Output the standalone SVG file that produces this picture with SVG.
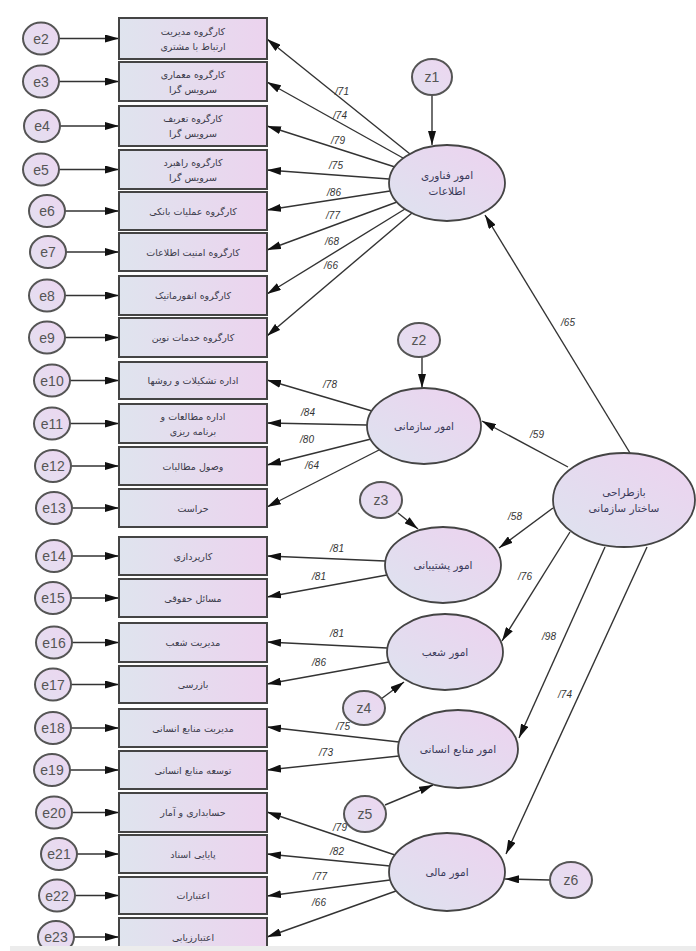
<svg xmlns="http://www.w3.org/2000/svg" width="696" height="951" viewBox="0 0 696 951">
<defs>
<linearGradient id="gBox" x1="0" y1="0" x2="1" y2="0"><stop offset="0" stop-color="#dfe4ee"/><stop offset="1" stop-color="#ecd3ee"/></linearGradient>
<linearGradient id="gEll" x1="0" y1="1" x2="1" y2="0"><stop offset="0" stop-color="#dde3ef"/><stop offset="1" stop-color="#edd2ef"/></linearGradient>
<linearGradient id="gCir" x1="0" y1="1" x2="1" y2="0"><stop offset="0" stop-color="#e3e0f0"/><stop offset="1" stop-color="#ecd6f0"/></linearGradient>
<marker id="ah" markerWidth="14" markerHeight="8" refX="14" refY="4" orient="auto" markerUnits="userSpaceOnUse"><path d="M0,0 L14,4 L0,8 z" fill="#111"/></marker>
</defs>
<style>
.box{fill:url(#gBox);stroke:#444;stroke-width:2}
.ell{fill:url(#gEll);stroke:#444;stroke-width:1.8}
.cir{fill:url(#gCir);stroke:#555;stroke-width:2}
.bt{font-family:"DejaVu Sans",sans-serif;font-size:9.5px;fill:#3a3a4a;text-anchor:middle}
.lt{font-family:"DejaVu Sans",sans-serif;font-size:10.5px;fill:#3a3a5a;text-anchor:middle}
.et{font-family:"Liberation Sans",Arial,sans-serif;font-size:14px;fill:#555;text-anchor:middle}
.nt{font-family:"Liberation Sans",Arial,sans-serif;font-size:10px;font-style:italic;fill:#333;text-anchor:middle}
.c line{stroke:#333;stroke-width:1.4;marker-end:url(#ah)}
</style>
<rect width="696" height="951" fill="#fff"/>

<g id="connectors" class="c">
<!-- error arrows -->
<line x1="59" y1="38.5" x2="119" y2="38.5"/>
<line x1="59" y1="81.5" x2="119" y2="81.5"/>
<line x1="60" y1="126" x2="119" y2="126"/>
<line x1="59" y1="169.5" x2="119" y2="169.5"/>
<line x1="65" y1="211" x2="119" y2="211"/>
<line x1="66" y1="252" x2="119" y2="252"/>
<line x1="65" y1="295.5" x2="119" y2="295.5"/>
<line x1="65" y1="337.5" x2="119" y2="337.5"/>
<line x1="70" y1="380.5" x2="119" y2="380.5"/>
<line x1="70" y1="423.5" x2="119" y2="423.5"/>
<line x1="71" y1="466" x2="119" y2="466"/>
<line x1="72" y1="508" x2="119" y2="508"/>
<line x1="72" y1="556" x2="119" y2="556"/>
<line x1="71" y1="598" x2="119" y2="598"/>
<line x1="72" y1="642.5" x2="119" y2="642.5"/>
<line x1="71" y1="684.5" x2="119" y2="684.5"/>
<line x1="71" y1="728" x2="119" y2="728"/>
<line x1="70" y1="770" x2="119" y2="770"/>
<line x1="72" y1="812.5" x2="119" y2="812.5"/>
<line x1="77" y1="854" x2="119" y2="854"/>
<line x1="75" y1="895.5" x2="119" y2="895.5"/>
<line x1="74" y1="937" x2="119" y2="937"/>
<!-- IT loadings -->
<line x1="410" y1="154" x2="267" y2="39"/>
<line x1="403" y1="158" x2="267" y2="82"/>
<line x1="395" y1="167" x2="267" y2="126"/>
<line x1="389" y1="179" x2="267" y2="170"/>
<line x1="390" y1="191" x2="267" y2="210"/>
<line x1="397" y1="202" x2="267" y2="250"/>
<line x1="405" y1="209" x2="267" y2="294"/>
<line x1="412" y1="213" x2="267" y2="336"/>
<!-- organizational -->
<line x1="372" y1="411" x2="267" y2="380"/>
<line x1="367" y1="425" x2="267" y2="423"/>
<line x1="371" y1="439" x2="267" y2="465"/>
<line x1="379" y1="450" x2="267" y2="507"/>
<!-- support -->
<line x1="385" y1="561" x2="267" y2="556"/>
<line x1="387" y1="575" x2="267" y2="597"/>
<!-- branches -->
<line x1="387" y1="648" x2="267" y2="642"/>
<line x1="389" y1="662" x2="267" y2="684"/>
<!-- HR -->
<line x1="399" y1="742" x2="267" y2="727"/>
<line x1="399" y1="756" x2="267" y2="770"/>
<!-- finance -->
<line x1="395" y1="855" x2="267" y2="812"/>
<line x1="390" y1="866" x2="267" y2="854"/>
<line x1="390" y1="880" x2="267" y2="896"/>
<line x1="396" y1="891" x2="267" y2="937"/>
<!-- disturbances -->
<line x1="432" y1="95" x2="432" y2="145"/>
<line x1="422" y1="357" x2="422" y2="388"/>
<line x1="398" y1="513" x2="418" y2="529"/>
<line x1="381" y1="699" x2="404" y2="682"/>
<line x1="385" y1="805" x2="433" y2="785"/>
<line x1="550" y1="880" x2="505" y2="879"/>
<!-- structural -->
<line x1="630" y1="453" x2="485" y2="215"/>
<line x1="568" y1="467" x2="482" y2="421"/>
<line x1="553" y1="508" x2="499" y2="548"/>
<line x1="570" y1="532" x2="502" y2="641"/>
<line x1="605" y1="547" x2="519" y2="738"/>
<line x1="647" y1="547" x2="506" y2="854"/>
</g>

<g id="labels">
<text class="nt" x="342" y="95">/71</text>
<text class="nt" x="340" y="119">/74</text>
<text class="nt" x="338" y="144">/79</text>
<text class="nt" x="336" y="169">/75</text>
<text class="nt" x="334" y="196">/86</text>
<text class="nt" x="333" y="219">/77</text>
<text class="nt" x="332" y="245">/68</text>
<text class="nt" x="331" y="269">/66</text>
<text class="nt" x="330" y="388">/78</text>
<text class="nt" x="308" y="416">/84</text>
<text class="nt" x="307" y="443">/80</text>
<text class="nt" x="312" y="469">/64</text>
<text class="nt" x="337" y="552">/81</text>
<text class="nt" x="319" y="580">/81</text>
<text class="nt" x="337" y="637">/81</text>
<text class="nt" x="319" y="666">/86</text>
<text class="nt" x="343" y="730">/75</text>
<text class="nt" x="326" y="756">/73</text>
<text class="nt" x="340" y="831">/79</text>
<text class="nt" x="337" y="855">/82</text>
<text class="nt" x="320" y="880">/77</text>
<text class="nt" x="319" y="906">/66</text>
<text class="nt" x="568" y="326">/65</text>
<text class="nt" x="537" y="438">/59</text>
<text class="nt" x="515" y="520">/58</text>
<text class="nt" x="525" y="580">/76</text>
<text class="nt" x="549" y="640">/98</text>
<text class="nt" x="565" y="698">/74</text>
</g>

<g id="e2"><ellipse class="cir" cx="41" cy="38.5" rx="18" ry="16"/><text class="et" x="41" y="43.5">e2</text></g>
<g id="e3"><ellipse class="cir" cx="41" cy="81.5" rx="18" ry="16"/><text class="et" x="41" y="86.5">e3</text></g>
<g id="e4"><ellipse class="cir" cx="42" cy="126" rx="18" ry="16"/><text class="et" x="42" y="131">e4</text></g>
<g id="e5"><ellipse class="cir" cx="41" cy="169.5" rx="18" ry="16"/><text class="et" x="41" y="174.5">e5</text></g>
<g id="e6"><ellipse class="cir" cx="47" cy="211" rx="18" ry="16"/><text class="et" x="47" y="216">e6</text></g>
<g id="e7"><ellipse class="cir" cx="48" cy="252" rx="18" ry="16"/><text class="et" x="48" y="257">e7</text></g>
<g id="e8"><ellipse class="cir" cx="47" cy="295.5" rx="18" ry="16"/><text class="et" x="47" y="300.5">e8</text></g>
<g id="e9"><ellipse class="cir" cx="47" cy="337.5" rx="18" ry="16"/><text class="et" x="47" y="342.5">e9</text></g>
<g id="e10"><ellipse class="cir" cx="52" cy="380.5" rx="18" ry="16"/><text class="et" x="52" y="385.5">e10</text></g>
<g id="e11"><ellipse class="cir" cx="52" cy="423.5" rx="18" ry="16"/><text class="et" x="52" y="428.5">e11</text></g>
<g id="e12"><ellipse class="cir" cx="53" cy="466" rx="18" ry="16"/><text class="et" x="53" y="471">e12</text></g>
<g id="e13"><ellipse class="cir" cx="54" cy="508" rx="18" ry="16"/><text class="et" x="54" y="513">e13</text></g>
<g id="e14"><ellipse class="cir" cx="54" cy="556" rx="18" ry="16"/><text class="et" x="54" y="561">e14</text></g>
<g id="e15"><ellipse class="cir" cx="53" cy="598" rx="18" ry="16"/><text class="et" x="53" y="603">e15</text></g>
<g id="e16"><ellipse class="cir" cx="54" cy="642.5" rx="18" ry="16"/><text class="et" x="54" y="647.5">e16</text></g>
<g id="e17"><ellipse class="cir" cx="53" cy="684.5" rx="18" ry="16"/><text class="et" x="53" y="689.5">e17</text></g>
<g id="e18"><ellipse class="cir" cx="53" cy="728" rx="18" ry="16"/><text class="et" x="53" y="733">e18</text></g>
<g id="e19"><ellipse class="cir" cx="52" cy="770" rx="18" ry="16"/><text class="et" x="52" y="775">e19</text></g>
<g id="e20"><ellipse class="cir" cx="54" cy="812.5" rx="18" ry="16"/><text class="et" x="54" y="817.5">e20</text></g>
<g id="e21"><ellipse class="cir" cx="59" cy="854" rx="18" ry="16"/><text class="et" x="59" y="859">e21</text></g>
<g id="e22"><ellipse class="cir" cx="57" cy="895.5" rx="18" ry="16"/><text class="et" x="57" y="900.5">e22</text></g>
<g id="e23"><ellipse class="cir" cx="56" cy="937" rx="18" ry="16"/><text class="et" x="56" y="942">e23</text></g>

<g id="v2"><rect class="box" x="119" y="18" width="148" height="41"/><text class="bt" x="193" y="35">کارگروه مدیریت</text><text class="bt" x="193" y="50">ارتباط با مشتری</text></g>
<g id="v3"><rect class="box" x="119" y="62" width="148" height="39"/><text class="bt" x="193" y="78">کارگروه معماری</text><text class="bt" x="193" y="93">سرویس گرا</text></g>
<g id="v4"><rect class="box" x="119" y="106" width="148" height="40"/><text class="bt" x="193" y="122">کارگروه تعریف</text><text class="bt" x="193" y="137">سرویس گرا</text></g>
<g id="v5"><rect class="box" x="119" y="150" width="148" height="39"/><text class="bt" x="193" y="166">کارگروه راهبرد</text><text class="bt" x="193" y="181">سرویس گرا</text></g>
<g id="v6"><rect class="box" x="119" y="192" width="148" height="38"/><text class="bt" x="193" y="215">کارگروه عملیات بانکی</text></g>
<g id="v7"><rect class="box" x="119" y="233" width="148" height="38"/><text class="bt" x="193" y="256">کارگروه امنیت اطلاعات</text></g>
<g id="v8"><rect class="box" x="119" y="276" width="148" height="39"/><text class="bt" x="193" y="299">کارگروه انفورماتیک</text></g>
<g id="v9"><rect class="box" x="119" y="318" width="148" height="39"/><text class="bt" x="193" y="341">کارگروه خدمات نوین</text></g>
<g id="v10"><rect class="box" x="119" y="362" width="148" height="37"/><text class="bt" x="193" y="384">اداره تشکیلات و روشها</text></g>
<g id="v11"><rect class="box" x="119" y="404" width="148" height="39"/><text class="bt" x="193" y="420">اداره مطالعات و</text><text class="bt" x="193" y="435">برنامه ریزی</text></g>
<g id="v12"><rect class="box" x="119" y="447" width="148" height="38"/><text class="bt" x="193" y="470">وصول مطالبات</text></g>
<g id="v13"><rect class="box" x="119" y="489" width="148" height="38"/><text class="bt" x="193" y="512">حراست</text></g>
<g id="v14"><rect class="box" x="119" y="537" width="148" height="38"/><text class="bt" x="193" y="560">کارپردازی</text></g>
<g id="v15"><rect class="box" x="119" y="579" width="148" height="38"/><text class="bt" x="193" y="602">مسائل حقوقی</text></g>
<g id="v16"><rect class="box" x="119" y="623" width="148" height="39"/><text class="bt" x="193" y="646">مدیریت شعب</text></g>
<g id="v17"><rect class="box" x="119" y="666" width="148" height="37"/><text class="bt" x="193" y="688">بازرسی</text></g>
<g id="v18"><rect class="box" x="119" y="709" width="148" height="38"/><text class="bt" x="193" y="732">مدیریت منابع انسانی</text></g>
<g id="v19"><rect class="box" x="119" y="751" width="148" height="38"/><text class="bt" x="193" y="774">توسعه منابع انسانی</text></g>
<g id="v20"><rect class="box" x="119" y="793" width="148" height="39"/><text class="bt" x="193" y="816">حسابداری و آمار</text></g>
<g id="v21"><rect class="box" x="119" y="835" width="148" height="38"/><text class="bt" x="193" y="858">پایایی اسناد</text></g>
<g id="v22"><rect class="box" x="119" y="877" width="148" height="37"/><text class="bt" x="193" y="899">اعتبارات</text></g>
<g id="v23"><rect class="box" x="119" y="918" width="148" height="38"/><text class="bt" x="193" y="941">اعتبارزیابی</text></g>

<g id="z1"><ellipse class="cir" cx="432" cy="77" rx="20" ry="18"/><text class="et" x="432" y="82">z1</text></g>
<g id="z2"><ellipse class="cir" cx="419" cy="340" rx="21" ry="17"/><text class="et" x="419" y="345">z2</text></g>
<g id="z3"><ellipse class="cir" cx="381" cy="500" rx="21" ry="18"/><text class="et" x="381" y="505">z3</text></g>
<g id="z4"><ellipse class="cir" cx="364" cy="708" rx="21" ry="17"/><text class="et" x="364" y="713">z4</text></g>
<g id="z5"><ellipse class="cir" cx="365" cy="814" rx="21" ry="18"/><text class="et" x="365" y="819">z5</text></g>
<g id="z6"><ellipse class="cir" cx="571" cy="880" rx="21" ry="18"/><text class="et" x="571" y="885">z6</text></g>

<g id="f_it"><ellipse class="ell" cx="447" cy="183" rx="58" ry="38"/><text class="lt" x="447" y="179">امور فناوری</text><text class="lt" x="447" y="195">اطلاعات</text></g>
<g id="f_org"><ellipse class="ell" cx="424" cy="426" rx="57" ry="38"/><text class="lt" x="424" y="430">امور سازمانی</text></g>
<g id="f_sup"><ellipse class="ell" cx="443" cy="565" rx="58" ry="38"/><text class="lt" x="443" y="569">امور پشتیبانی</text></g>
<g id="f_br"><ellipse class="ell" cx="445" cy="652" rx="58" ry="38"/><text class="lt" x="445" y="656">امور شعب</text></g>
<g id="f_hr"><ellipse class="ell" cx="458" cy="749" rx="60" ry="39"/><text class="lt" x="458" y="753">امور منابع انسانی</text></g>
<g id="f_fin"><ellipse class="ell" cx="447" cy="872" rx="58" ry="39"/><text class="lt" x="447" y="876">امور مالی</text></g>
<g id="f_main"><ellipse class="ell" cx="624" cy="500" rx="71" ry="47"/><text class="lt" x="624" y="496">بازطراحی</text><text class="lt" x="624" y="512">ساختار سازمانی</text></g>

<rect x="10" y="946" width="686" height="5" fill="#ececec"/>
</svg>
